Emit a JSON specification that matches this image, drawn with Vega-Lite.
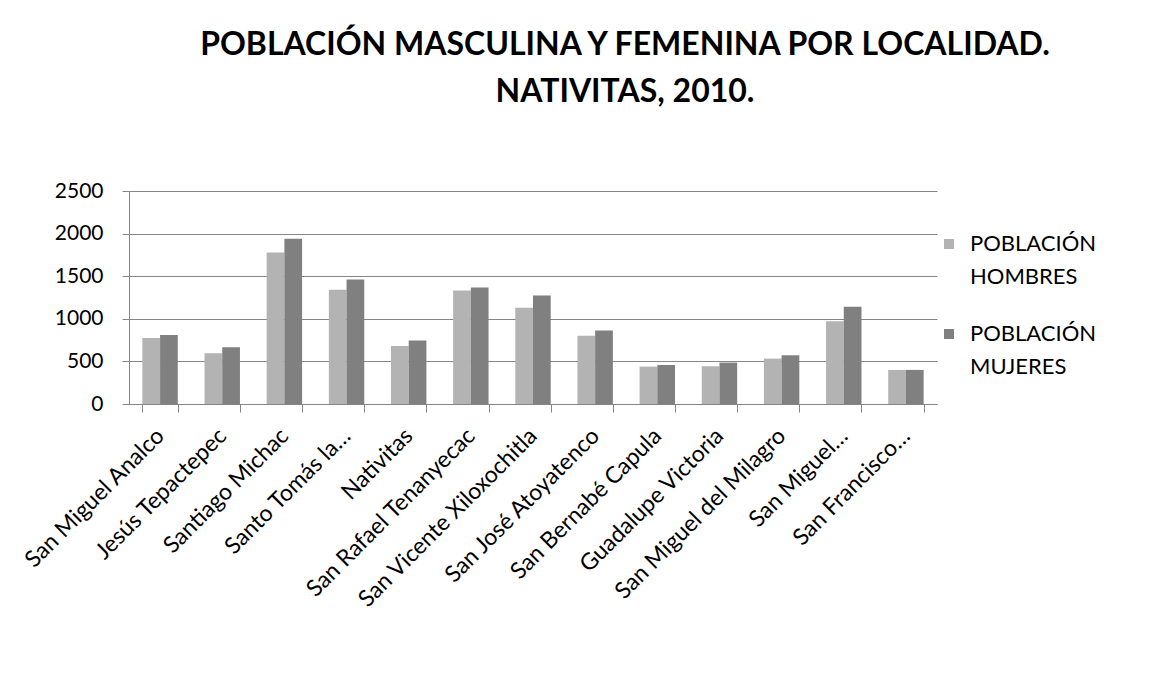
{
  "$schema": "https://vega.github.io/schema/vega-lite/v6.json",
  "autosize": "none",
  "width": 808,
  "height": 213,
  "padding": {"left": 129, "top": 191, "right": 216, "bottom": 273},
  "background": "white",
  "title": {
    "text": ["POBLACIÓN MASCULINA Y FEMENINA POR LOCALIDAD.", "NATIVITAS, 2010."],
    "anchor": "middle",
    "frame": "group",
    "dx": 92,
    "offset": 71,
    "font": "Lato",
    "fontSize": 32,
    "fontWeight": "bold",
    "color": "black",
    "lineHeight": 47
  },
  "data": {
    "values": [
      {"localidad": "San Miguel Analco", "sexo": "POBLACIÓN HOMBRES", "poblacion": 776},
      {"localidad": "San Miguel Analco", "sexo": "POBLACIÓN MUJERES", "poblacion": 811},
      {"localidad": "Jesús Tepactepec", "sexo": "POBLACIÓN HOMBRES", "poblacion": 596},
      {"localidad": "Jesús Tepactepec", "sexo": "POBLACIÓN MUJERES", "poblacion": 666},
      {"localidad": "Santiago Michac", "sexo": "POBLACIÓN HOMBRES", "poblacion": 1779},
      {"localidad": "Santiago Michac", "sexo": "POBLACIÓN MUJERES", "poblacion": 1940},
      {"localidad": "Santo Tomás la…", "sexo": "POBLACIÓN HOMBRES", "poblacion": 1340},
      {"localidad": "Santo Tomás la…", "sexo": "POBLACIÓN MUJERES", "poblacion": 1462},
      {"localidad": "Nativitas", "sexo": "POBLACIÓN HOMBRES", "poblacion": 682},
      {"localidad": "Nativitas", "sexo": "POBLACIÓN MUJERES", "poblacion": 745},
      {"localidad": "San Rafael Tenanyecac", "sexo": "POBLACIÓN HOMBRES", "poblacion": 1332},
      {"localidad": "San Rafael Tenanyecac", "sexo": "POBLACIÓN MUJERES", "poblacion": 1368},
      {"localidad": "San Vicente Xiloxochitla", "sexo": "POBLACIÓN HOMBRES", "poblacion": 1129},
      {"localidad": "San Vicente Xiloxochitla", "sexo": "POBLACIÓN MUJERES", "poblacion": 1274},
      {"localidad": "San José Atoyatenco", "sexo": "POBLACIÓN HOMBRES", "poblacion": 800},
      {"localidad": "San José Atoyatenco", "sexo": "POBLACIÓN MUJERES", "poblacion": 862},
      {"localidad": "San Bernabé Capula", "sexo": "POBLACIÓN HOMBRES", "poblacion": 439},
      {"localidad": "San Bernabé Capula", "sexo": "POBLACIÓN MUJERES", "poblacion": 458},
      {"localidad": "Guadalupe Victoria", "sexo": "POBLACIÓN HOMBRES", "poblacion": 443},
      {"localidad": "Guadalupe Victoria", "sexo": "POBLACIÓN MUJERES", "poblacion": 486},
      {"localidad": "San Miguel del Milagro", "sexo": "POBLACIÓN HOMBRES", "poblacion": 533},
      {"localidad": "San Miguel del Milagro", "sexo": "POBLACIÓN MUJERES", "poblacion": 572},
      {"localidad": "San Miguel…", "sexo": "POBLACIÓN HOMBRES", "poblacion": 972},
      {"localidad": "San Miguel…", "sexo": "POBLACIÓN MUJERES", "poblacion": 1140},
      {"localidad": "San Francisco…", "sexo": "POBLACIÓN HOMBRES", "poblacion": 400},
      {"localidad": "San Francisco…", "sexo": "POBLACIÓN MUJERES", "poblacion": 400}
    ]
  },
  "mark": {"type": "bar"},
  "encoding": {
    "x": {
      "field": "localidad",
      "type": "nominal",
      "sort": null,
      "scale": {"paddingInner": 0.43, "paddingOuter": 0.215},
      "axis": {
        "title": null,
        "tickBand": "extent",
        "tickSize": 8,
        "tickColor": "#868686",
        "domainColor": "#868686",
        "labelAngle": -45,
        "labelAlign": "right",
        "labelBaseline": "middle",
        "labelPadding": 20,
        "labelFont": "Lato",
        "labelFontSize": 23,
        "labelColor": "black",
        "labelLimit": 400
      }
    },
    "xOffset": {
      "field": "sexo",
      "type": "nominal",
      "scale": {"paddingInner": 0, "paddingOuter": 0}
    },
    "y": {
      "field": "poblacion",
      "type": "quantitative",
      "scale": {"domain": [0, 2500], "nice": false},
      "axis": {
        "title": null,
        "values": [0, 500, 1000, 1500, 2000, 2500],
        "format": "d",
        "grid": true,
        "gridColor": "#868686",
        "gridWidth": 1,
        "tickSize": 7,
        "tickColor": "#868686",
        "domainColor": "#868686",
        "labelPadding": 19,
        "labelFont": "Lato",
        "labelFontSize": 21,
        "labelColor": "black"
      }
    },
    "color": {
      "field": "sexo",
      "type": "nominal",
      "scale": {
        "domain": ["POBLACIÓN HOMBRES", "POBLACIÓN MUJERES"],
        "range": ["#b3b3b3", "#808080"]
      },
      "legend": {
        "title": null,
        "orient": "none",
        "legendX": 809,
        "legendY": 42,
        "padding": 0,
        "symbolType": "square",
        "symbolSize": 100,
        "symbolStrokeWidth": 0,
        "labelFont": "Lato",
        "labelFontSize": 22,
        "labelColor": "black",
        "labelExpr": "split(datum.label, ' ')",
        "labelOffset": 10,
        "rowPadding": 35,
        "encode": {
          "labels": {"update": {"lineHeight": {"value": 33}}}
        }
      }
    }
  },
  "config": {
    "view": {"stroke": null},
    "axis": {"domainWidth": 1, "tickWidth": 1}
  }
}
